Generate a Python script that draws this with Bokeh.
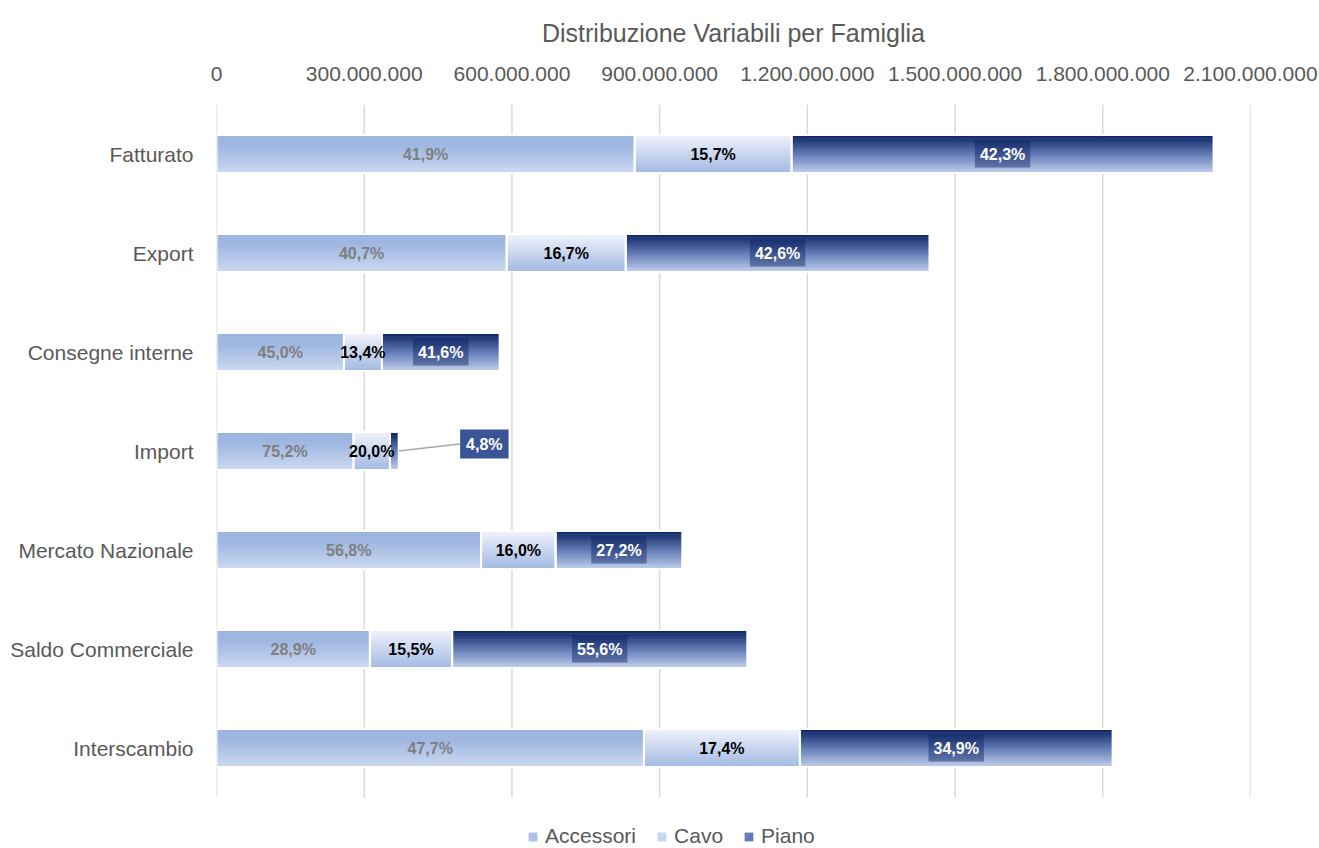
from bokeh.plotting import figure
from bokeh.models import Range1d, FixedTicker, ColumnDataSource, Legend, LegendItem
from bokeh.embed import file_html
from bokeh.resources import INLINE
from bokeh.core.properties import value

# ---------------- data ----------------
categories = ["Fatturato", "Export", "Consegne interne", "Import",
              "Mercato Nazionale", "Saldo Commerciale", "Interscambio"]
accessori_mln = [849.3, 589.3, 258.8, 278.2, 537.3, 311.5, 868.1]
cavo_mln = [318.7, 241.8, 77.1, 74.0, 151.4, 167.1, 316.7]
piano_mln = [857.0, 616.9, 239.2, 17.8, 257.3, 599.4, 635.2]
series_names = ["Accessori", "Cavo", "Piano"]
x_ticks = [0, 300000000, 600000000, 900000000, 1200000000, 1500000000,
           1800000000, 2100000000]
title_text = "Distribuzione Variabili per Famiglia"

# ---------------- styling ----------------
FONT = "Liberation Sans"
GREY = "#595959"
stops = {
    "Accessori": [(0.0, "#9cb3df"), (0.3, "#a0b7e1"), (1.0, "#cad8f0")],
    "Cavo": [(0.0, "#f0f3fb"), (1.0, "#a4bae3")],
    "Piano": [(0.0, "#0b2262"), (0.5, "#6079b3"), (1.0, "#bccbeb")],
}
label_colors = {"Accessori": "#7f7f7f", "Cavo": "#000000", "Piano": "#ffffff"}


def h2r(h):
    return [int(h[i:i + 2], 16) for i in (1, 3, 5)]


def grad(st, t):
    for (t0, c0), (t1, c1) in zip(st[:-1], st[1:]):
        if t <= t1 or (t1 == st[-1][0]):
            f = 0 if t1 == t0 else min(max((t - t0) / (t1 - t0), 0), 1)
            a, b = h2r(c0), h2r(c1)
            return "#%02x%02x%02x" % tuple(round(a[i] + (b[i] - a[i]) * f) for i in range(3))
    return st[-1][1]


values = {
    "Accessori": [v * 1e6 for v in accessori_mln],
    "Cavo": [v * 1e6 for v in cavo_mln],
    "Piano": [v * 1e6 for v in piano_mln],
}
totals = [a + c + p_ for a, c, p_ in zip(values["Accessori"], values["Cavo"], values["Piano"])]
ys = list(range(len(categories)))
n = len(categories)

BAND_PX = 99.0          # pixel height of one category band
LEGEND_PX = 51.0        # extra room at the bottom of the frame for the legend
FRAME_H = int(BAND_PX * n + LEGEND_PX)
y_bottom = n - 0.5 + LEGEND_PX / BAND_PX

p = figure(frame_width=1034, frame_height=FRAME_H, output_backend="svg", toolbar_location=None,
           x_range=Range1d(0, 2100000000), y_range=Range1d(y_bottom, -0.5),
           x_axis_location="above", min_border_left=216, min_border_right=68,
           min_border_top=104, min_border_bottom=0)
p.outline_line_color = None
p.background_fill_color = "white"
p.border_fill_color = "white"

p.title.text = title_text
p.title.align = "center"
p.title.text_font = FONT
p.title.text_font_size = "25px"
p.title.text_font_style = "normal"
p.title.text_color = GREY
p.title.standoff = 33

xa = p.xaxis[0]
xa.ticker = FixedTicker(ticks=x_ticks)
xa.major_label_overrides = {t: f"{t:,}".replace(",", ".") for t in x_ticks}
xa.axis_line_color = None
xa.major_tick_line_color = None
xa.minor_tick_line_color = None
xa.major_tick_out = 0
xa.major_tick_in = 0
xa.major_label_text_font = FONT
xa.major_label_text_font_size = "21px"
xa.major_label_text_color = GREY
xa.major_label_standoff = 24

ya = p.yaxis[0]
ya.ticker = FixedTicker(ticks=ys)
ya.major_label_overrides = {i: c for i, c in zip(ys, categories)}
ya.axis_line_color = None
ya.major_tick_line_color = None
ya.minor_tick_line_color = None
ya.major_tick_out = 0
ya.major_tick_in = 0
ya.major_label_text_font = FONT
ya.major_label_text_font_size = "21px"
ya.major_label_text_color = GREY
ya.major_label_standoff = 23

p.xgrid.visible = False
p.ygrid.visible = False
# vertical gridlines limited to the category area
p.segment(x0=x_ticks, x1=x_ticks, y0=[-0.5] * len(x_ticks), y1=[n - 0.5] * len(x_ticks),
          line_color="#d9d9d9", line_width=1.5)

BAR_H = 0.385
N = 32
sh = BAR_H / N

lefts = {}
acc = [0.0] * n
renderers = {}
for name in series_names:
    vals = values[name]
    lefts[name] = list(acc)
    rights = [a + v for a, v in zip(acc, vals)]
    d = dict(y=[], left=[], right=[], color=[])
    for k in range(N):
        t = k / (N - 1)
        col = grad(stops[name], t)
        off = -BAR_H / 2 + (k + 0.5) * sh
        for i in ys:
            d["y"].append(i + off)
            d["left"].append(acc[i])
            d["right"].append(rights[i])
            d["color"].append(col)
    r = p.hbar(y="y", left="left", right="right", height=sh * 1.6, fill_color="color",
               line_color=None, source=ColumnDataSource(d))
    renderers[name] = r
    acc = rights

# white separators
acc = [0.0] * n
for name in series_names:
    rights = [a + v for a, v in zip(acc, values[name])]
    p.hbar(y=ys, left=acc, right=rights, height=BAR_H, fill_alpha=0,
           line_color="white", line_width=2)
    acc = rights


def fmt(v):
    return f"{v:.1f}%".replace(".", ",")


# labels
for name in series_names:
    xs, yy, tx = [], [], []
    for i in ys:
        if name == "Piano" and categories[i] == "Import":
            continue
        xs.append(lefts[name][i] + values[name][i] / 2)
        yy.append(i)
        tx.append(fmt(values[name][i] / totals[i] * 100))
    kw = {}
    if name == "Piano":
        kw = dict(background_fill_color="#0b2262", background_fill_alpha=0.45, padding=5)
    p.text(x=xs, y=yy, text=tx, text_align="center", text_baseline="middle",
           text_font=value(FONT), text_font_style="bold", text_font_size="16px",
           text_color=label_colors[name], **kw)

# Import piano label moved outside with leader line
imp = categories.index("Import")
lx = totals[imp] + 174e6
p.segment(x0=[totals[imp]], y0=[imp], x1=[lx - 50e6], y1=[imp - 0.07],
          line_color="#a6a6a6", line_width=1.5)
p.text(x=[lx], y=[imp - 0.07], text=[fmt(values["Piano"][imp] / totals[imp] * 100)],
       text_align="center", text_baseline="middle", text_font=value(FONT),
       text_font_style="bold", text_font_size="16px", text_color="white",
       background_fill_color="#3a5596", padding=6)

mid = (N // 2) * n
legend = Legend(items=[LegendItem(label=s, renderers=[renderers[s]], index=mid) for s in series_names],
                orientation="horizontal", location=(311, 0))
legend.label_text_font = FONT
legend.label_text_font_size = "21px"
legend.label_text_color = GREY
legend.glyph_width = 11
legend.glyph_height = 11
legend.label_standoff = 7
legend.spacing = 20
legend.border_line_alpha = 0
legend.background_fill_alpha = 0
legend.padding = 0
legend.margin = 0
p.add_layout(legend)

open("out.html", "w").write(file_html(p, INLINE))
